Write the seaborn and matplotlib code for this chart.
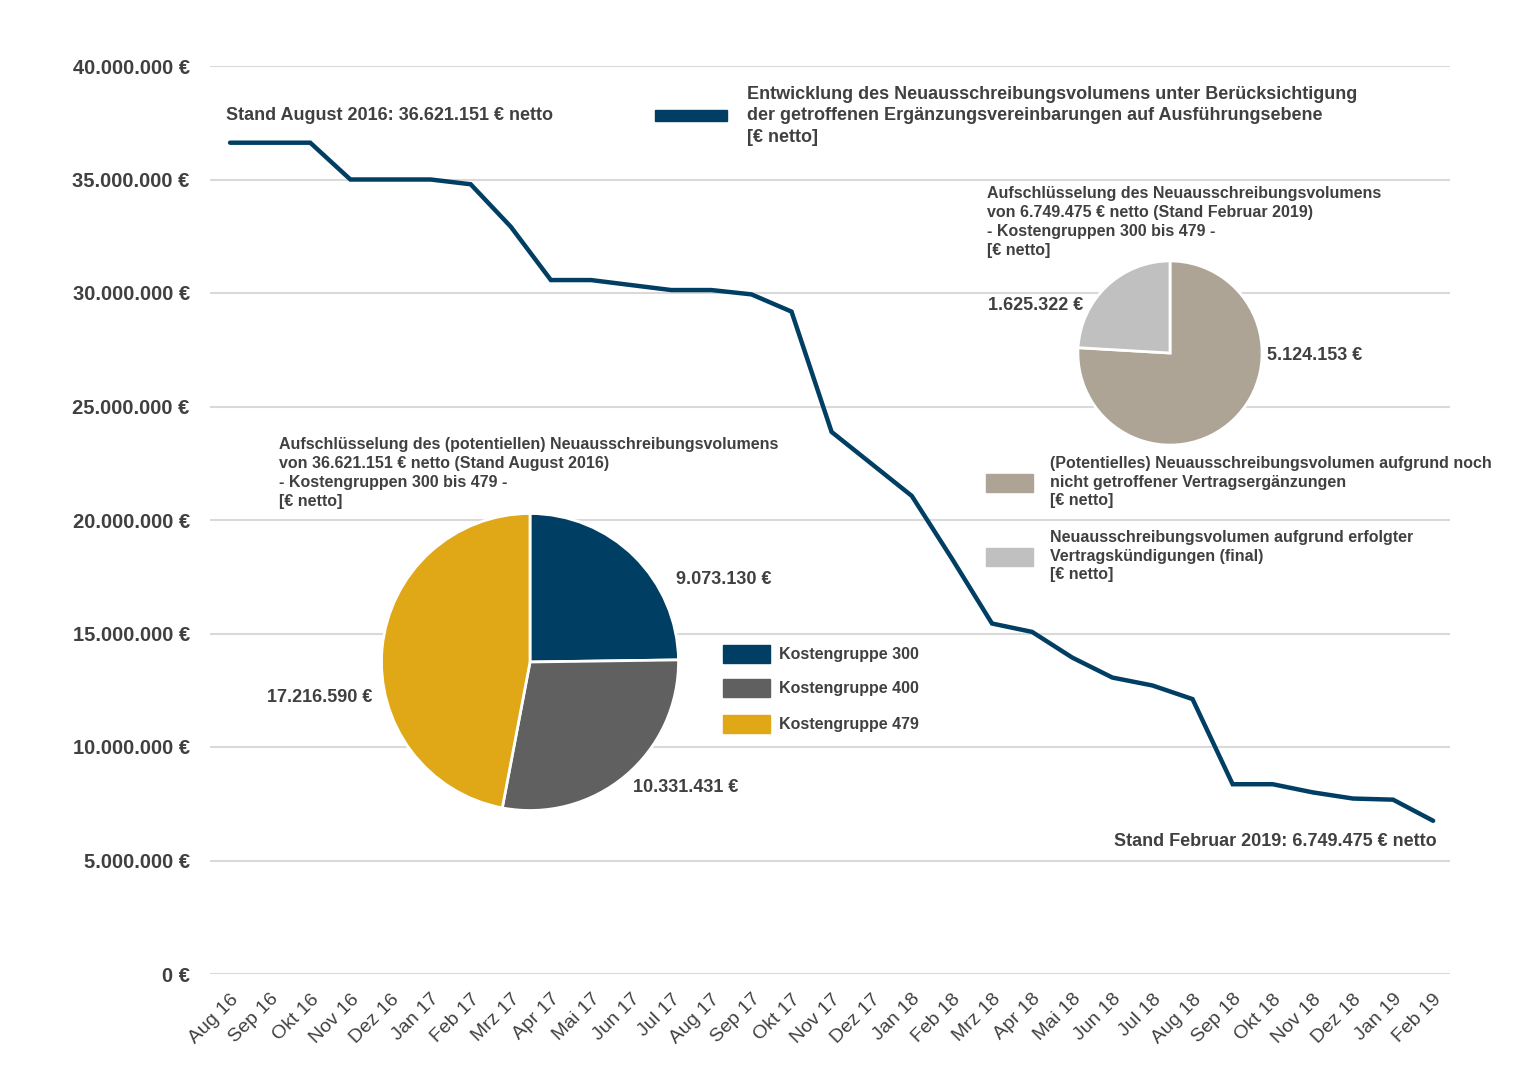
import matplotlib
matplotlib.use('Agg')
import matplotlib.pyplot as plt
from matplotlib.patches import Rectangle
from matplotlib.ticker import FuncFormatter
import seaborn as sns
import pandas as pd

# Monthly development of re-tender volume [EUR net]
months = ['Aug 16', 'Sep 16', 'Okt 16', 'Nov 16', 'Dez 16', 'Jan 17', 'Feb 17', 'Mrz 17',
          'Apr 17', 'Mai 17', 'Jun 17', 'Jul 17', 'Aug 17', 'Sep 17', 'Okt 17', 'Nov 17',
          'Dez 17', 'Jan 18', 'Feb 18', 'Mrz 18', 'Apr 18', 'Mai 18', 'Jun 18', 'Jul 18',
          'Aug 18', 'Sep 18', 'Okt 18', 'Nov 18', 'Dez 18', 'Jan 19', 'Feb 19']
volume = [36621151, 36621151, 36621151, 35000000, 35000000, 35000000, 34790000, 32920000,
          30570000, 30570000, 30350000, 30130000, 30130000, 29940000, 29180000, 23880000,
          22470000, 21060000, 18300000, 15440000, 15070000, 13940000, 13060000, 12710000,
          12110000, 8360000, 8360000, 8000000, 7730000, 7680000, 6749475]

# Pie 1: August 2016 by cost group
kg_labels = ['Kostengruppe 300', 'Kostengruppe 400', 'Kostengruppe 479']
kg_values = [9073130, 10331431, 17216590]
kg_colors = ['#003F63', '#606060', '#E0A717']

# Pie 2: February 2019 breakdown
feb_labels = ['(Potentielles) Neuausschreibungsvolumen aufgrund noch\nnicht getroffener Vertragsergänzungen\n[€ netto]',
              'Neuausschreibungsvolumen aufgrund erfolgter\nVertragskündigungen (final)\n[€ netto]']
feb_values = [5124153, 1625322]
feb_colors = ['#ADA496', '#C0C0C0']

W, H = 1530, 1080
TXT = '#404040'


def de_fmt(v):
    return f'{int(round(v)):,}'.replace(',', '.') + ' €'


def fx(px):
    return px / W


def fy(py):
    return 1 - py / H


sns.set_theme(style='white')
plt.rcParams['font.family'] = ['Liberation Sans', 'DejaVu Sans']

fig = plt.figure(figsize=(W / 100, H / 100), dpi=100)
ax = fig.add_axes([fx(210), fy(974), fx(1450) - fx(210), fy(66) - fy(974)])

df = pd.DataFrame({'idx': range(len(months)), 'volume': volume})
sns.lineplot(data=df, x='idx', y='volume', ax=ax, color='#003F63', linewidth=3.2,
             solid_capstyle='round', solid_joinstyle='miter')

ax.set_xlim(-0.5, 30.42)
ax.set_ylim(0, 40000000)
ax.set_yticks(range(0, 40000001, 5000000))
ax.yaxis.set_major_formatter(FuncFormatter(lambda v, p: de_fmt(v)))
ax.set_xticks(range(len(months)))
ax.set_xticklabels(months, rotation=45, ha='right', rotation_mode='anchor')
ax.tick_params(axis='y', length=0, pad=14.5, labelsize=14.5, labelcolor=TXT)
ax.tick_params(axis='x', length=0, pad=12, labelsize=14, labelcolor=TXT)
for lab in ax.get_yticklabels():
    lab.set_fontweight('bold')
ax.grid(axis='y', color='#D9D9D9', linewidth=1.5)
ax.set_axisbelow(True)
for s in ax.spines.values():
    s.set_visible(False)
ax.set_xlabel('')
ax.set_ylabel('')

fig.text(fx(226), fy(116), 'Stand August 2016: 36.621.151 € netto', ha='left', va='center',
         fontsize=13, fontweight='bold', color=TXT)
fig.text(fx(1437), fy(841), 'Stand Februar 2019: 6.749.475 € netto', ha='right', va='center',
         fontsize=13, fontweight='bold', color=TXT)

# main legend
fig.patches.append(Rectangle((fx(655), fy(121)), fx(72), fy(110) - fy(121), transform=fig.transFigure,
                             color='#003F63', figure=fig))
fig.text(fx(747), fy(116), 'Entwicklung des Neuausschreibungsvolumens unter Berücksichtigung\n'
         'der getroffenen Ergänzungsvereinbarungen auf Ausführungsebene\n[€ netto]',
         ha='left', va='center', fontsize=13, fontweight='bold', color=TXT, linespacing=1.35)

# pie 1
ax1 = fig.add_axes([fx(380), fy(812), fx(300), fy(512) - fy(812)])
ax1.pie(kg_values, colors=kg_colors, startangle=90, counterclock=False,
        wedgeprops=dict(edgecolor='white', linewidth=2))
ax1.set_xlim(-1.01, 1.01)
ax1.set_ylim(-1.01, 1.01)
ax1.set_aspect('equal')
fig.text(fx(279), fy(473), 'Aufschlüsselung des (potentiellen) Neuausschreibungsvolumens\n'
         'von 36.621.151 € netto (Stand August 2016)\n- Kostengruppen 300 bis 479 -\n[€ netto]',
         ha='left', va='center', fontsize=11.5, fontweight='bold', color=TXT, linespacing=1.31)
fig.text(fx(676), fy(580), de_fmt(kg_values[0]), ha='left', va='center', fontsize=13,
         fontweight='bold', color=TXT)
fig.text(fx(633), fy(787), de_fmt(kg_values[1]), ha='left', va='center', fontsize=13,
         fontweight='bold', color=TXT)
fig.text(fx(372), fy(698), de_fmt(kg_values[2]), ha='right', va='center', fontsize=13,
         fontweight='bold', color=TXT)
for i, (lab, col) in enumerate(zip(kg_labels, kg_colors)):
    yc = [654, 688, 724][i]
    fig.patches.append(Rectangle((fx(723), fy(yc + 9)), fx(47), fy(yc - 9) - fy(yc + 9),
                                 transform=fig.transFigure, color=col, figure=fig))
    fig.text(fx(779), fy(yc), lab, ha='left', va='center', fontsize=11.5,
             fontweight='bold', color=TXT)

# pie 2
ax2 = fig.add_axes([fx(1077), fy(446), fx(186), fy(260) - fy(446)])
ax2.pie(feb_values, colors=feb_colors, startangle=90, counterclock=False,
        wedgeprops=dict(edgecolor='white', linewidth=2))
ax2.set_xlim(-1.01, 1.01)
ax2.set_ylim(-1.01, 1.01)
ax2.set_aspect('equal')
fig.text(fx(987), fy(222), 'Aufschlüsselung des Neuausschreibungsvolumens\n'
         'von 6.749.475 € netto (Stand Februar 2019)\n- Kostengruppen 300 bis 479 -\n[€ netto]',
         ha='left', va='center', fontsize=11.5, fontweight='bold', color=TXT, linespacing=1.31)
fig.text(fx(1267), fy(356), de_fmt(feb_values[0]), ha='left', va='center', fontsize=13,
         fontweight='bold', color=TXT)
fig.text(fx(1083), fy(305), de_fmt(feb_values[1]), ha='right', va='center', fontsize=13,
         fontweight='bold', color=TXT)
for i, (lab, col) in enumerate(zip(feb_labels, feb_colors)):
    yc = [483, 557][i]
    fig.patches.append(Rectangle((fx(986), fy(yc + 9)), fx(47), fy(yc - 9) - fy(yc + 9),
                                 transform=fig.transFigure, color=col, figure=fig))
    fig.text(fx(1050), fy(yc - 1), lab, ha='left', va='center', fontsize=11.5,
             fontweight='bold', color=TXT, linespacing=1.31)

fig.savefig('out.png', dpi=100)
